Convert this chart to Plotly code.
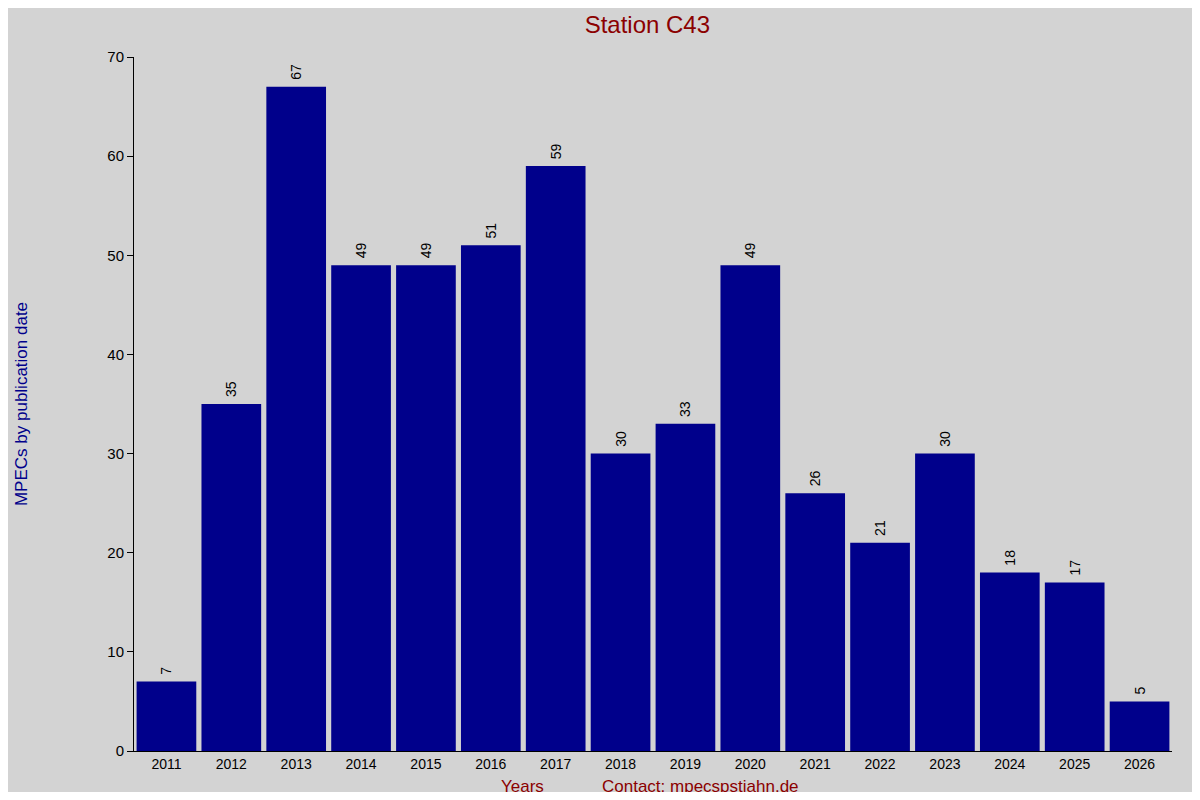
import plotly.graph_objects as go

years = ["2011", "2012", "2013", "2014", "2015", "2016", "2017", "2018",
         "2019", "2020", "2021", "2022", "2023", "2024", "2025", "2026"]
counts = [7, 35, 67, 49, 49, 51, 59, 30, 33, 49, 26, 21, 30, 18, 17, 5]

fig = go.Figure(
    data=[go.Bar(x=years, y=counts, marker_color="#00008b", marker_line_width=0,
                 text=[" " + str(c) for c in counts], textposition="outside",
                 textangle=-90, cliponaxis=False,
                 textfont=dict(color="black", size=14))]
)

# page has an 8px body margin, so the figure is drawn slightly smaller
fig.update_layout(
    width=1184, height=784,
    paper_bgcolor="#d3d3d3", plot_bgcolor="#d3d3d3",
    font=dict(family="Liberation Sans, Arial", size=14, color="black"),
    margin=dict(l=118, r=20, t=49, b=41),
    bargap=0.08,
    showlegend=False,
    title=dict(text="Station C43", x=0.54, xanchor="center", y=0.99, yanchor="top",
               font=dict(size=24, color="#8b0000")),
    annotations=[
        dict(text="Years", xref="paper", yref="paper", x=(509 - 118) / 1046, y=0,
             yshift=-24, xanchor="center", yanchor="top", showarrow=False,
             font=dict(size=17, color="#8b0000")),
        dict(text="Contact: mpecspstjahn.de", xref="paper", yref="paper",
             x=(689 - 118) / 1046, y=0, yshift=-24, xanchor="center", yanchor="top",
             showarrow=False, font=dict(size=17, color="#8b0000")),
    ],
)

fig.update_xaxes(range=[-0.5, 15.5], showline=True, linecolor="black", linewidth=1,
                 ticks="", showgrid=False, tickfont=dict(size=14))
fig.update_yaxes(range=[0, 70], dtick=10, showline=True, linecolor="black", linewidth=1,
                 ticks="outside", ticklen=6, tickcolor="black", showgrid=False,
                 zeroline=False, tickfont=dict(size=15),
                 title=dict(text="MPECs by publication date", standoff=75,
                            font=dict(size=17, color="#00008b")))

fig.write_html("out.html")
